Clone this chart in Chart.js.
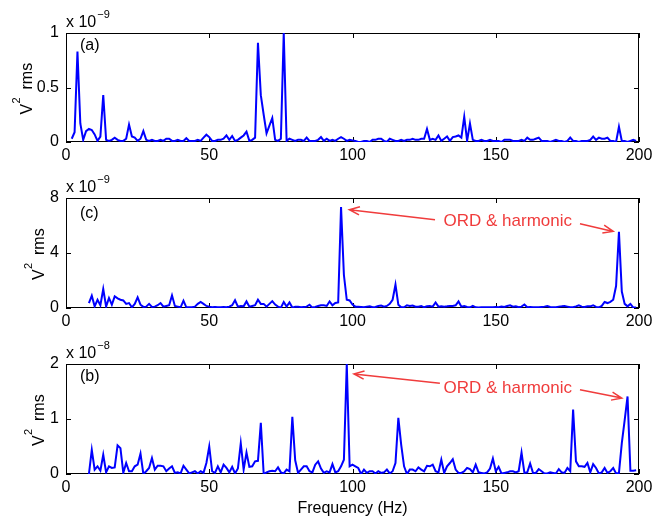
<!doctype html>
<html>
<head>
<meta charset="utf-8">
<script src="https://cdn.jsdelivr.net/npm/chart.js@4.4.0/dist/chart.umd.min.js"></script>
<style>
	body { margin: 0; background: #fff; }
	.panel { position: absolute; left: 0; width: 665px; }
</style>
</head>
<body>
<div class="panel" style="top:0px;height:170px"><canvas id="chartA"></canvas></div>
<div class="panel" style="top:170px;height:166px"><canvas id="chartC"></canvas></div>
<div class="panel" style="top:336px;height:182px"><canvas id="chartB"></canvas></div>
<script>
// spectra, 1 Hz bins, values in units of the axis exponent
var startA = 2;   // panel (a), x 10^-9
var valuesA = [
	0.03, 0.09, 0.83, 0.17, 0.02, 0.10, 0.12, 0.11,
	0.07, 0.01, 0.05, 0.43, 0.02, 0.01, 0.02, 0.04, 0.02, 0.01,
	0.01, 0.03, 0.16, 0.05, 0.04, 0.01, 0.03, 0.10, 0.02, 0.01,
	0.02, 0.01, 0.01, 0.02, 0.01, 0.03, 0.03, 0.01, 0.01, 0.02,
	0.01, 0.01, 0.035, 0.01, 0.01, 0.01, 0.02, 0.01, 0.04, 0.067,
	0.045, 0.01, 0.01, 0.02, 0.02, 0.03, 0.06, 0.02, 0.055, 0.01,
	0.02, 0.04, 0.06, 0.095, 0.01, 0.02, 0.04, 0.91, 0.43, 0.25,
	0.08, 0.15, 0.22, 0.02, 0.01, 0.03, 1.0, 0.01, 0.03, 0.02,
	0.01, 0.02, 0.02, 0.01, 0.04, 0.01, 0.01, 0.01, 0.02, 0.045,
	0.01, 0.03, 0.01, 0.02, 0.01, 0.03, 0.045, 0.03, 0.01, 0.02,
	0.015, 0.01, 0, 0, 0.01, 0.01, 0, 0.02, 0.02, 0.03,
	0.03, 0.01, 0, 0.03, 0.02, 0.01, 0.01, 0.02, 0.01, 0.02,
	0.02, 0.03, 0.02, 0.02, 0.03, 0.03, 0.12, 0.02, 0.03, 0.02,
	0.06, 0.01, 0.03, 0.05, 0.01, 0.045, 0.05, 0.06, 0.04, 0.23,
	0.01, 0.17, 0.02, 0.01, 0.01, 0.02, 0.01, 0.01, 0.02, 0.01,
	0.01, 0.01, 0, 0.02, 0.02, 0.02, 0.01, 0.01, 0.01, 0.02,
	0.01, 0.04, 0.02, 0.02, 0.03, 0.04, 0.01, 0.01, 0.01, 0,
	0.01, 0.02, 0.01, 0.01, 0, 0.01, 0.04, 0.01, 0.01, 0,
	0.01, 0.01, 0.01, 0.02, 0.05, 0.02, 0.04, 0.03, 0.03, 0.04,
	0.01, 0.01, 0, 0.14, 0.01, 0.01, 0, 0.01, 0.02, 0.01
];

var startC = 8;   // panel (c), x 10^-9
var valuesC = [
	0.36, 0.9,
	0.12, 0.6, 0.2, 1.38, 0.1, 0.73, 0.24, 0.85, 0.7, 0.6,
	0.55, 0.3, 0.36, 0.05, 0.3, 0.78, 0.24, 0.08, 0.1, 0.3,
	0.08, 0.1, 0.2, 0.36, 0.1, 0.15, 0.2, 0.92, 0.15, 0.1,
	0.05, 0.53, 0.05, 0.05, 0.05, 0.1, 0.3, 0.44, 0.3, 0.15,
	0.1, 0.06, 0.08, 0.06, 0.06, 0.08, 0.05, 0.1, 0.2, 0.56,
	0.1, 0.15, 0.12, 0.48, 0.1, 0.15, 0.2, 0.6, 0.3, 0.3,
	0.1, 0.3, 0.5, 0.25, 0.1, 0.03, 0.44, 0.1, 0.4, 0.03,
	0.1, 0.1, 0.05, 0.08, 0.1, 0.24, 0.03, 0.08, 0.15, 0.2,
	0.2, 0.15, 0.48, 0.2, 0.36, 0.4, 7.35, 2.4, 0.6, 0.55,
	0.25, 0.1, 0.1, 0.08, 0.05, 0.1, 0.12, 0.05, 0.08, 0.15,
	0.18, 0.1, 0.15, 0.3, 0.6, 1.7, 0.24, 0.05, 0.05, 0.2,
	0.15, 0.18, 0.1, 0.1, 0.15, 0.05, 0.12, 0.15, 0.1, 0.4,
	0.1, 0.12, 0.1, 0.12, 0.15, 0.15, 0.2, 0.48, 0.1, 0.15,
	0.08, 0.05, 0.15, 0.05, 0.03, 0.05, 0.05, 0.05, 0.05, 0.05,
	0.08, 0.05, 0.1, 0.08, 0.15, 0.2, 0.1, 0.12, 0.05, 0.1,
	0.25, 0.05, 0.08, 0.05, 0.05, 0.05, 0.08, 0.1, 0.15, 0.08,
	0.05, 0.05, 0.1, 0.12, 0.15, 0.1, 0.05, 0.05, 0.12, 0.2,
	0.1, 0.08, 0.12, 0.12, 0.2, 0.08, 0.05, 0.15, 0.44, 0.36,
	0.45, 0.6, 1.6, 5.55, 1.2, 0.3, 0.12, 0.3, 0.03, 0.03
];

var startB = 8;   // panel (b), x 10^-8
var valuesB = [
	0, 0.44,
	0.08, 0.14, 0.06, 0.35, 0.03, 0.14, 0.11, 0.12, 0.52, 0.47,
	0.02, 0.2, 0.05, 0.05, 0.14, 0.17, 0.37, 0, 0.05, 0.11,
	0.29, 0.08, 0.15, 0.15, 0.14, 0.05, 0.1, 0.14, 0.02, 0.03,
	0.01, 0.15, 0.08, 0.01, 0.03, 0.05, 0.01, 0.05, 0.02, 0.2,
	0.5, 0.05, 0.02, 0.14, 0.03, 0.17, 0.11, 0.03, 0.13, 0.01,
	0.1, 0.56, 0.08, 0.39, 0.13, 0.14, 0.23, 0.24, 0.93, 0,
	0.03, 0.05, 0.06, 0.05, 0.12, 0.03, 0.01, 0.08, 0.05, 1.04,
	0.25, 0.02, 0.08, 0.14, 0.14, 0.05, 0.03, 0.17, 0.23, 0.1,
	0.02, 0.05, 0.03, 0.18, 0.03, 0.05, 0.14, 0.26, 2.0, 0.14,
	0.17, 0.14, 0.11, 0, 0.08, 0.02, 0.05, 0.05, 0.01, 0.05,
	0.02, 0.03, 0.08, 0.01, 0.05, 0.2, 1.02, 0.53, 0.14, 0,
	0.08, 0.08, 0.05, 0.12, 0.08, 0.05, 0.15, 0.14, 0.17, 0.05,
	0.03, 0.26, 0.02, 0.14, 0.2, 0.27, 0.08, 0.02, 0.02, 0.05,
	0.11, 0.09, 0.03, 0.17, 0.03, 0.02, 0.01, 0.03, 0.1, 0.28,
	0.05, 0.13, 0.01, 0.02, 0.03, 0.05, 0.05, 0.03, 0.05, 0.39,
	0.02, 0.03, 0.19, 0.02, 0.02, 0.09, 0.05, 0.01, 0.01, 0.03,
	0.02, 0.01, 0.09, 0.03, 0.02, 0.11, 0.05, 1.17, 0.23, 0.14,
	0.14, 0.13, 0.2, 0.03, 0.18, 0.11, 0.01, 0.03, 0.11, 0.02,
	0.05, 0.11, 0.01, 0.02, 0.56, 0.98, 1.41, 0.06, 0.06, 0.07
];

var xTicks = [0, 50, 100, 150, 200];
var noteText = 'ORD & harmonic';

var FONT = '"Liberation Sans", Arial, Helvetica, sans-serif';
var RED = '#f03c3c';

function toPoints(start, values) {
	return values.map(function (v, i) { return { x: start + i, y: v }; });
}

function drawArrow(ctx, x1, y1, x2, y2) {
	var ang = Math.atan2(y2 - y1, x2 - x1);
	var len = 11, spread = 0.38;
	ctx.beginPath();
	ctx.moveTo(x1, y1);
	ctx.lineTo(x2, y2);
	ctx.moveTo(x2 - len * Math.cos(ang - spread), y2 - len * Math.sin(ang - spread));
	ctx.lineTo(x2, y2);
	ctx.lineTo(x2 - len * Math.cos(ang + spread), y2 - len * Math.sin(ang + spread));
	ctx.stroke();
}

// matlab style box with inward ticks, exponent, labels, notes
var matlabPlugin = {
	id: 'matlab',
	beforeDatasetsDraw: function (chart) {
		var ctx = chart.ctx, a = chart.chartArea;
		var xs = chart.scales.x, ys = chart.scales.y;
		var tl = 5;
		ctx.save();
		ctx.strokeStyle = '#000';
		ctx.lineWidth = 1;
		ctx.strokeRect(Math.round(a.left) + 0.5, Math.round(a.top) + 0.5,
			Math.round(a.right - a.left) - 1, Math.round(a.bottom - a.top) - 1);
		ctx.beginPath();
		xs.ticks.forEach(function (t) {
			var px = Math.round(xs.getPixelForValue(t.value)) + 0.5;
			ctx.moveTo(px, a.bottom); ctx.lineTo(px, a.bottom - tl);
			ctx.moveTo(px, a.top); ctx.lineTo(px, a.top + tl);
		});
		ys.ticks.forEach(function (t) {
			var py = Math.round(ys.getPixelForValue(t.value)) + 0.5;
			ctx.moveTo(a.left, py); ctx.lineTo(a.left + tl, py);
			ctx.moveTo(a.right, py); ctx.lineTo(a.right - tl, py);
		});
		ctx.stroke();
		ctx.restore();
	},
	afterDraw: function (chart, args, opts) {
		var ctx = chart.ctx, a = chart.chartArea;
		var xs = chart.scales.x, ys = chart.scales.y;
		ctx.save();
		ctx.fillStyle = '#000';
		ctx.textBaseline = 'alphabetic';
		ctx.textAlign = 'left';
		ctx.font = '16px ' + FONT;
		ctx.fillText('x 10', a.left, a.top - 6);
		var w = ctx.measureText('x 10').width;
		ctx.font = '11px ' + FONT;
		ctx.fillText('\u2212' + opts.exponent, a.left + w + 1, a.top - 15);

		ctx.font = '16px ' + FONT;
		ctx.textBaseline = 'middle';
		ctx.fillText(opts.letter, a.left + 14, a.top + opts.letterDy);

		// y label V^2 rms, rotated
		ctx.save();
		ctx.translate(opts.yLabelX, (a.top + a.bottom) / 2 + 27);
		ctx.rotate(-Math.PI / 2);
		ctx.textBaseline = 'alphabetic';
		ctx.font = '16px ' + FONT;
		ctx.fillText('V', 0, 0);
		ctx.font = '11px ' + FONT;
		ctx.fillText('2', 11, -12);
		ctx.font = '16px ' + FONT;
		ctx.fillText('rms', 25, 0);
		ctx.restore();

		if (opts.note) {
			var n = opts.note;
			ctx.fillStyle = RED;
			ctx.strokeStyle = RED;
			ctx.lineWidth = 1.5;
			ctx.font = '17px ' + FONT;
			ctx.textAlign = 'center';
			ctx.fillText(noteText, xs.getPixelForValue(n.text[0]), ys.getPixelForValue(n.text[1]));
			n.arrows.forEach(function (r) {
				drawArrow(ctx, xs.getPixelForValue(r[0]), ys.getPixelForValue(r[1]),
					xs.getPixelForValue(r[2]), ys.getPixelForValue(r[3]));
			});
		}
		ctx.restore();
	}
};

function makeChart(id, start, values, cfg) {
	return new Chart(document.getElementById(id), {
		type: 'line',
		data: {
			datasets: [{
				data: toPoints(start, values),
				borderColor: '#0000ff',
				borderWidth: 2,
				pointRadius: 0,
				tension: 0,
				fill: false
			}]
		},
		options: {
			responsive: true,
			maintainAspectRatio: false,
			animation: false,
			events: [],
			layout: { padding: { top: cfg.padTop, right: 26, left: 0, bottom: 0 } },
			plugins: {
				legend: { display: false },
				tooltip: { enabled: false },
				matlab: {
					exponent: cfg.exponent, letter: cfg.letter, letterDy: cfg.letterDy,
					yLabelX: cfg.yLabelX, note: cfg.note
				}
			},
			scales: {
				x: {
					type: 'linear',
					min: 0,
					max: 200,
					afterBuildTicks: function (s) { s.ticks = xTicks.map(function (v) { return { value: v }; }); },
					afterFit: function (s) { s.height = cfg.xHeight; },
					grid: { display: false, drawTicks: false },
					border: { display: false },
					ticks: { padding: 4, color: '#000', maxRotation: 0, font: { family: FONT, size: 16 } },
					title: {
						display: !!cfg.xTitle,
						text: cfg.xTitle || '',
						color: '#000',
						padding: { top: 0, bottom: 0 },
						font: { family: FONT, size: 16 }
					}
				},
				y: {
					min: 0,
					max: cfg.yMax,
					afterFit: function (s) { s.width = 66; },
					grid: { display: false, drawTicks: false },
					border: { display: false },
					ticks: {
						stepSize: cfg.yStep,
						padding: 7,
						color: '#000',
						font: { family: FONT, size: 16 },
						callback: function (v) { return String(v); }
					}
				}
			}
		},
		plugins: [matlabPlugin]
	});
}

makeChart('chartA', startA, valuesA, {
	padTop: 33, xHeight: 28, yMax: 1, yStep: 0.5, exponent: '9', letter: '(a)', letterDy: 13, yLabelX: 31.5
});
makeChart('chartC', startC, valuesC, {
	padTop: 28, xHeight: 28, yMax: 8, yStep: 4, exponent: '9', letter: '(c)', letterDy: 16, yLabelX: 44,
	note: { text: [154.2, 6.28], arrows: [[128.8, 6.42, 98.9, 7.15], [179.4, 6.13, 191, 5.57]] }
});
makeChart('chartB', startB, valuesB, {
	padTop: 28, xHeight: 44, yMax: 2, yStep: 1, exponent: '8', letter: '(b)', letterDy: 13, yLabelX: 44,
	xTitle: 'Frequency (Hz)',
	note: { text: [154.2, 1.56], arrows: [[130.5, 1.65, 100.5, 1.82], [179.4, 1.53, 194, 1.38]] }
});
</script>
</body>
</html>
